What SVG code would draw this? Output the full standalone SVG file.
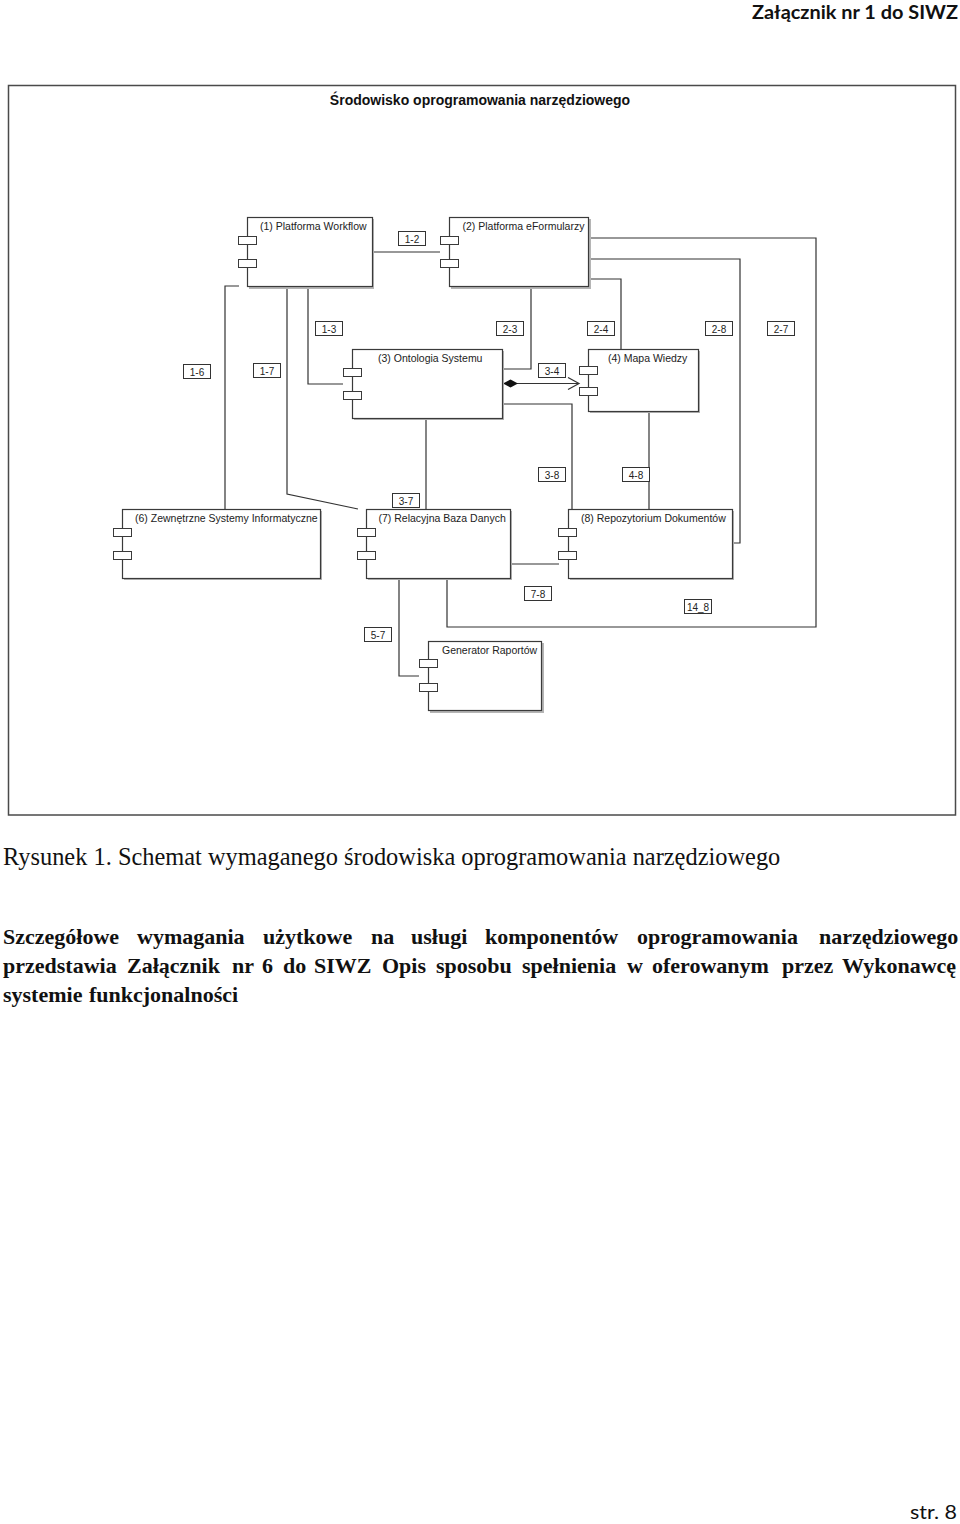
<svg xmlns="http://www.w3.org/2000/svg" width="960" height="1524" viewBox="0 0 960 1524">
<style>
.bg{fill:#fff}
.frame{fill:#fff;stroke:#4a4a4a;stroke-width:1.5}
.shadow{fill:#b5b5b5}
.body{fill:#fff;stroke:#3a3a3a;stroke-width:1.2}
.port{fill:#fff;stroke:#3a3a3a;stroke-width:1}
.nlabel{font-family:'Liberation Sans',Arial,sans-serif;font-size:10.5px;fill:#222}
.conn{fill:none;stroke:#333;stroke-width:1.2}
.lbox{fill:#fff;stroke:#333;stroke-width:1}
.ltext{font-family:'Liberation Sans',Arial,sans-serif;font-size:10px;text-anchor:middle;fill:#222}
.title{font-family:'Liberation Sans',Arial,sans-serif;font-size:14px;font-weight:bold;text-anchor:middle;fill:#111}
.caption{font-family:'Liberation Serif','Times New Roman',serif;font-size:24.4px;fill:#111}
.para{font-family:'Liberation Serif','Times New Roman',serif;font-size:22px;font-weight:bold;fill:#111}
.head{font-family:Lato,'Open Sans',sans-serif;font-weight:bold;font-size:19px;fill:#111}
.foot{font-family:Lato,'Open Sans',sans-serif;font-size:20px;fill:#111}
</style>
<defs>
<marker id="diamond" markerWidth="16" markerHeight="10" refX="0" refY="5" orient="auto" markerUnits="userSpaceOnUse"><path d="M0,5 L7.5,1 L15,5 L7.5,9 Z" fill="#111"/></marker>
<marker id="open" markerWidth="14" markerHeight="14" refX="12" refY="7" orient="auto" markerUnits="userSpaceOnUse"><path d="M1,1 L12,7 L1,13" fill="none" stroke="#333" stroke-width="1.2"/></marker>
</defs>
<rect class="bg" x="0" y="0" width="960" height="1524"/>
<text class="head" x="752" y="19" textLength="206" lengthAdjust="spacingAndGlyphs">Załącznik nr 1 do SIWZ</text>
<g id="frame">
<rect class="frame" x="8.5" y="85.5" width="947" height="729.5"/>
<text class="title" x="480" y="105">Środowisko oprogramowania narzędziowego</text>
</g>
<g id="connectors">
<path class="conn" d="M372,252 H440"/>
<path class="conn" d="M308,287 V384 H343"/>
<path class="conn" d="M239,286 H225 V509"/>
<path class="conn" d="M287,287 V494 L358,509"/>
<path class="conn" d="M531,287 V369 H502"/>
<path class="conn" d="M589,279 H621 V349"/>
<path class="conn" d="M589,259 H740 V543 H732"/>
<path class="conn" d="M589,238 H816 V627 H447 V578"/>
<path class="conn" d="M503,383.5 H579" marker-start="url(#diamond)" marker-end="url(#open)"/>
<path class="conn" d="M426,418 V509"/>
<path class="conn" d="M502,404 H572 V509"/>
<path class="conn" d="M649,411 V509"/>
<path class="conn" d="M510,564 H559"/>
<path class="conn" d="M399,578 V676 H419"/>
<g id="labels">
<rect class="lbox" x="398.5" y="231.5" width="27" height="14"/><text class="ltext" x="412" y="242.5">1-2</text>
<rect class="lbox" x="315.5" y="321.5" width="27" height="14"/><text class="ltext" x="329" y="332.5">1-3</text>
<rect class="lbox" x="183.5" y="364.5" width="27" height="14"/><text class="ltext" x="197" y="375.5">1-6</text>
<rect class="lbox" x="253.5" y="363.5" width="27" height="14"/><text class="ltext" x="267" y="374.5">1-7</text>
<rect class="lbox" x="496.5" y="321.5" width="27" height="14"/><text class="ltext" x="510" y="332.5">2-3</text>
<rect class="lbox" x="587.5" y="321.5" width="27" height="14"/><text class="ltext" x="601" y="332.5">2-4</text>
<rect class="lbox" x="705.5" y="321.5" width="27" height="14"/><text class="ltext" x="719" y="332.5">2-8</text>
<rect class="lbox" x="767.5" y="321.5" width="27" height="14"/><text class="ltext" x="781" y="332.5">2-7</text>
<rect class="lbox" x="538.5" y="363.5" width="27" height="14"/><text class="ltext" x="552" y="374.5">3-4</text>
<rect class="lbox" x="392.5" y="493.5" width="27" height="14"/><text class="ltext" x="406" y="504.5">3-7</text>
<rect class="lbox" x="538.5" y="467.5" width="27" height="14"/><text class="ltext" x="552" y="478.5">3-8</text>
<rect class="lbox" x="622.5" y="467.5" width="27" height="14"/><text class="ltext" x="636" y="478.5">4-8</text>
<rect class="lbox" x="524.5" y="586.5" width="27" height="14"/><text class="ltext" x="538" y="597.5">7-8</text>
<rect class="lbox" x="684.5" y="599.5" width="27" height="14"/><text class="ltext" x="698" y="610.5">14_8</text>
<rect class="lbox" x="364.5" y="627.5" width="27" height="14"/><text class="ltext" x="378" y="638.5">5-7</text>
</g>
</g>
<g id="node1">
<rect class="shadow" x="249" y="219" width="125" height="70"/>
<rect class="body" x="247.5" y="217.5" width="125" height="69"/>
<rect class="port" x="238.5" y="236.5" width="18" height="8"/><rect class="port" x="238.5" y="259.5" width="18" height="8"/>
<text class="nlabel" x="260" y="229.5">(1) Platforma Workflow</text>
</g>
<g id="node2">
<rect class="shadow" x="451" y="219" width="140" height="70"/>
<rect class="body" x="449.5" y="217.5" width="139" height="69"/>
<rect class="port" x="440.5" y="236.5" width="18" height="8"/><rect class="port" x="440.5" y="259.5" width="18" height="8"/>
<text class="nlabel" x="462.5" y="229.5">(2) Platforma eFormularzy</text>
</g>
<g id="node3">
<rect class="shadow" x="354" y="351" width="150" height="69"/>
<rect class="body" x="352.5" y="349.5" width="150" height="69"/>
<rect class="port" x="343.5" y="368.5" width="18" height="8"/><rect class="port" x="343.5" y="391.5" width="18" height="8"/>
<text class="nlabel" x="378" y="361.5">(3) Ontologia Systemu</text>
</g>
<g id="node4">
<rect class="shadow" x="590" y="351" width="110" height="62"/>
<rect class="body" x="588.5" y="349.5" width="110" height="62"/>
<rect class="port" x="579.5" y="366.5" width="18" height="8"/><rect class="port" x="579.5" y="387.5" width="18" height="8"/>
<text class="nlabel" x="608" y="361.5">(4) Mapa Wiedzy</text>
</g>
<g id="node6">
<rect class="shadow" x="124" y="511" width="198" height="69"/>
<rect class="body" x="122.5" y="509.5" width="198" height="69"/>
<rect class="port" x="113.5" y="528.5" width="18" height="8"/><rect class="port" x="113.5" y="551.5" width="18" height="8"/>
<text class="nlabel" x="135" y="521.5">(6) Zewnętrzne Systemy Informatyczne</text>
</g>
<g id="node7">
<rect class="shadow" x="368" y="511" width="144" height="69"/>
<rect class="body" x="366.5" y="509.5" width="144" height="69"/>
<rect class="port" x="357.5" y="528.5" width="18" height="8"/><rect class="port" x="357.5" y="551.5" width="18" height="8"/>
<text class="nlabel" x="378.5" y="521.5">(7) Relacyjna Baza Danych</text>
</g>
<g id="node8">
<rect class="shadow" x="570" y="511" width="164" height="69"/>
<rect class="body" x="568.5" y="509.5" width="164" height="69"/>
<rect class="port" x="558.5" y="528.5" width="18" height="8"/><rect class="port" x="558.5" y="551.5" width="18" height="8"/>
<text class="nlabel" x="581" y="521.5">(8) Repozytorium Dokumentów</text>
</g>
<g id="generator">
<rect class="shadow" x="430" y="643" width="114" height="70"/>
<rect class="body" x="428.5" y="641.5" width="113" height="69"/>
<rect class="port" x="419.5" y="659.5" width="18" height="8"/><rect class="port" x="419.5" y="683.5" width="18" height="8"/>
<text class="nlabel" x="442" y="653.5">Generator Raportów</text>
</g>
<text class="caption" x="3" y="865">Rysunek 1. Schemat wymaganego środowiska oprogramowania narzędziowego</text>
<text class="para" y="944"><tspan x="3">Szczegółowe</tspan><tspan x="137">wymagania</tspan><tspan x="263">użytkowe</tspan><tspan x="371">na</tspan><tspan x="411">usługi</tspan><tspan x="485">komponentów</tspan><tspan x="637">oprogramowania</tspan><tspan x="819">narzędziowego</tspan></text>
<text class="para" y="973"><tspan x="3">przedstawia</tspan><tspan x="127">Załącznik</tspan><tspan x="232">nr</tspan><tspan x="262">6</tspan><tspan x="283">do</tspan><tspan x="314">SIWZ</tspan><tspan x="382">Opis</tspan><tspan x="436">sposobu</tspan><tspan x="522">spełnienia</tspan><tspan x="627">w</tspan><tspan x="652">oferowanym</tspan><tspan x="782">przez</tspan><tspan x="842">Wykonawcę</tspan></text>
<text class="para" y="1002"><tspan x="3">systemie</tspan><tspan x="89">funkcjonalności</tspan></text>
<text class="foot" x="910" y="1519" textLength="47" lengthAdjust="spacingAndGlyphs">str. 8</text>
</svg>
